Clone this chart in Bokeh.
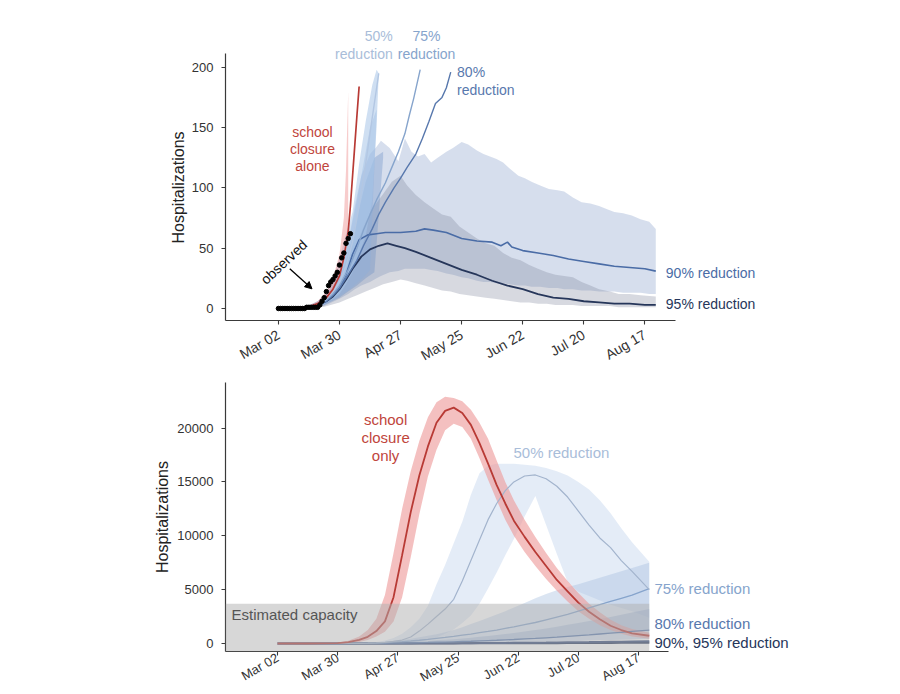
import math
from bokeh.plotting import figure
from bokeh.layouts import column
from bokeh.models import Label, Arrow, NormalHead, BoxAnnotation, FixedTicker, Range1d, Title
from bokeh.embed import file_html
from bokeh.resources import INLINE

FONT = "Liberation Sans"

# ---------------- shared x ticks (days since Mar 02) ----------------
tick_days = [0, 28, 56, 84, 112, 140, 168]
tick_labels = ["Mar 02", "Mar 30", "Apr 27", "May 25", "Jun 22", "Jul 20", "Aug 17"]

# ---------------- TOP PANEL DATA (hospitalizations, early phase) ----------------
obs_day = [0, 1, 2, 3, 4, 5, 6, 7, 8, 9, 10, 11, 12, 13, 14, 15, 16, 17, 18, 19, 20,
           21, 22, 23, 24, 25, 26, 27, 28, 29, 30, 31, 32, 33]
obs_val = [0, 0, 0, 0, 0, 0, 0, 0, 0, 0, 0, 0, 0, 1, 1, 1, 1, 1, 1, 3, 6,
           9, 14, 19, 22, 24, 27, 30, 36, 42, 46, 54, 58, 62]

school_day = [0, 7, 14, 18, 22, 25, 28, 30, 32, 33, 34, 35, 36, 37]
school_med = [0, 0.3, 1.5, 4, 9, 16, 27, 42, 64, 85, 110, 135, 160, 184]
school_rib_day = [0, 7, 14, 18, 22, 25, 28, 30, 31, 32]
school_rib_hi = [0, 0.5, 2.5, 6, 14, 25, 45, 75, 115, 180]
school_rib_lo = [0, 0.3, 1.5, 4, 9, 16, 27, 42, 52, 64]

r50_day = [0, 7, 14, 18, 22, 25, 28, 31, 34, 37, 40, 43, 46]
r50_med = [0, 0.3, 1.5, 3.5, 8, 14, 22, 35, 55, 85, 120, 158, 195]
r50_rib_day = [0, 7, 14, 18, 22, 25, 28, 31, 34, 37, 40, 43, 45, 46]
r50_rib_hi = [0, 0.5, 2.5, 6, 13, 24, 42, 62, 80, 120, 155, 185, 198, 195]
r50_rib_lo = [0, 0.2, 1, 2.5, 5, 8, 12, 20, 30, 45, 60, 90, 150, 195]

r75_day = [0, 7, 14, 18, 22, 25, 28, 32, 36, 39, 42, 45, 49, 52, 55, 58, 60, 62, 65]
r75_med = [0, 0.3, 1.5, 3, 7, 12, 19, 32, 50, 65, 78, 90, 104, 117, 130, 145, 160, 174, 198]
r75_rib_day = [0, 7, 14, 21, 28, 32, 36, 39, 42, 45]
r75_rib_hi = [0, 0.5, 2.5, 9, 30, 55, 90, 120, 150, 165]
r75_rib_lo = [0, 0.2, 1, 3, 10, 15, 21, 26, 32, 160]

r80_day = [0, 7, 14, 18, 22, 25, 28, 32, 36, 39, 43, 46, 49, 53, 56, 59, 63, 66, 69, 72, 75, 77, 79]
r80_med = [0, 0.3, 1.5, 3, 6, 11, 17, 28, 40, 52, 66, 78, 88, 100, 108, 117, 128, 141, 155, 170, 175, 183, 196]
r80_rib_day = [0, 7, 14, 21, 28, 32, 36, 40, 44, 48]
r80_rib_hi = [0, 0.5, 2, 8, 26, 45, 75, 105, 125, 130]
r80_rib_lo = [0, 0.2, 1, 3, 9, 14, 19, 25, 30, 125]

r90_day = [0, 7, 14, 18, 22, 25, 28, 31, 34, 37, 41, 45, 49, 56, 63, 67, 71, 77, 84, 91,
           98, 102, 105, 107, 112, 119, 126, 133, 140, 147, 154, 161, 168, 173]
r90_med = [0, 0.3, 1.5, 3, 6, 11, 17, 28, 45, 57, 61, 62, 63, 63, 64, 66, 65, 63, 58, 56,
           55, 52, 55, 51, 48, 46, 44, 41, 39, 37, 35, 34, 33, 31]
r90_rib_day = [0, 7, 14, 21, 28, 32, 35, 38, 42, 45, 47, 51, 55, 58, 61, 64, 67, 70, 73, 77,
               80, 84, 87, 91, 94, 97, 100, 103, 106, 110, 113, 116, 120, 124, 128, 131, 135,
               139, 143, 147, 151, 154, 158, 162, 166, 170, 173]
r90_rib_hi = [0, 0.5, 2.5, 8, 30, 55, 85, 110, 128, 134, 139, 133, 122, 141, 130, 126, 128, 121, 125, 130,
              133, 138, 136, 131, 128, 126, 124, 121, 116, 110, 108, 105, 102, 99, 98, 97, 92,
              88, 87, 85, 82, 80, 79, 77, 74, 72, 66]
r90_rib_lo = [0, 0.1, 0.5, 2, 8, 12, 16, 19, 22, 25, 27, 30, 31, 33, 33, 33, 33, 32, 31, 29,
              28, 26, 25, 23, 22, 22, 21, 21, 20, 19, 19, 18, 18, 17, 17, 16, 16,
              15, 15, 14, 14, 14, 13, 13, 13, 12, 12]

r95_day = [0, 7, 14, 18, 22, 25, 28, 31, 34, 38, 42, 46, 50, 54, 58, 63, 70, 77, 84, 91,
           98, 105, 112, 119, 126, 133, 140, 147, 154, 161, 168, 173]
r95_med = [0, 0.3, 1.5, 3, 6, 10, 16, 24, 33, 43, 49, 52, 54, 52, 50, 47, 42, 37, 32, 28,
           23, 19, 16, 12, 9, 8, 6, 5, 4, 4, 3, 3]
r95_rib_day = [0, 7, 14, 21, 28, 32, 36, 40, 44, 48, 52, 56, 59, 63, 67, 71, 75, 79, 83, 87,
               91, 95, 99, 103, 107, 111, 115, 119, 123, 127, 131, 135, 139, 143, 147, 152,
               156, 161, 166, 173]
r95_rib_hi = [0, 0.4, 2, 6, 18, 35, 55, 72, 85, 95, 105, 110, 102, 94, 88, 83, 78, 76, 68, 63,
              58, 54, 52, 46, 42, 40, 36, 33, 30, 28, 27, 26, 22, 19, 16, 14,
              12, 12, 11, 10]
r95_rib_lo = [0, 0.1, 0.3, 1.5, 5, 8, 11, 14, 17, 20, 22, 24, 23, 21, 19, 17, 15, 14, 12, 11,
              10, 9, 8, 7, 6, 5, 5, 4, 4, 3, 3, 3, 2, 2, 2, 2,
              1, 1, 1, 1]

# ---------------- BOTTOM PANEL DATA (full epidemic) ----------------
b_day = [0, 7, 14, 21, 28, 33, 38, 42, 46, 50, 54, 58, 62, 66, 70, 74, 78, 82, 86, 90, 94,
         98, 102, 106, 110, 115, 120, 125, 130, 135, 140, 145, 150, 155, 160, 165, 173]
b_school_med = [0, 0, 0, 5, 30, 120, 330, 620, 1150, 2050, 4300, 8200, 12200, 15600, 18300, 20500,
                21600, 21900, 21400, 20300, 18600, 16700, 14700, 13000, 11400, 9900, 8500, 7200,
                5900, 4850, 3800, 2950, 2250, 1650, 1250, 950, 720]
b_school_hi = [0, 0, 5, 20, 80, 250, 650, 1250, 2300, 4500, 8400, 12500, 16000, 18800, 21000, 22400,
               22900, 22800, 22500, 21700, 20500, 19000, 17000, 15000, 13300, 11500, 9900, 8400,
               7000, 5800, 4700, 3700, 2900, 2200, 1700, 1350, 1000]
b_school_lo = [0, 0, 0, 0, 10, 40, 150, 330, 650, 1100, 2050, 4300, 8000, 12000, 15500, 18000,
               19800, 20400, 20100, 19000, 17200, 15200, 13300, 11500, 10000, 8500, 7200, 6000,
               4900, 3900, 3000, 2300, 1700, 1250, 900, 650, 450]
b50_med = [0, 0, 0, 0, 0, 5, 15, 30, 60, 110, 200, 320, 600, 1150, 1800, 2500, 3200, 4100, 5800,
           7700, 9600, 11500, 13000, 14200, 15000, 15550, 15650, 15300, 14600, 13600, 12300,
           11000, 9800, 8900, 7700, 6700, 5000]
b50_hi = [0, 0, 0, 0, 5, 15, 40, 80, 150, 280, 500, 900, 1500, 2300, 3500, 5500, 7300, 9300, 11300,
          13800, 15800, 16500, 16700, 16700, 16700, 16600, 16500, 16300, 16000, 15600, 15000,
          14300, 13300, 12100, 10700, 9400, 7600]
b50_lo = [0, 0, 0, 0, 0, 0, 0, 0, 5, 10, 20, 40, 80, 150, 300, 550, 900, 1300, 1900, 2600, 3700,
          5100, 6600, 8200, 9700, 11800, 13700, 11000, 8300, 5700, 4800, 4400, 4000, 3600, 3300,
          3000, 2400]
b75_med = [0, 0, 0, 0, 0, 5, 15, 30, 50, 80, 120, 170, 230, 300, 380, 470, 560, 660, 770, 880,
           1000, 1120, 1250, 1400, 1550, 1750, 1950, 2200, 2450, 2700, 3000, 3300, 3600, 3900,
           4200, 4500, 5100]
b75_hi = [0, 0, 0, 0, 5, 15, 40, 70, 110, 170, 250, 340, 450, 580, 720, 870, 1050, 1250, 1500,
          1800, 2100, 2400, 2700, 3000, 3350, 3750, 4200, 4600, 4950, 5250, 5500, 5800, 6100,
          6400, 6700, 7000, 7500]
b75_lo = [0, 0, 0, 0, 0, 1, 3, 6, 10, 15, 22, 30, 40, 52, 65, 80, 95, 115, 135, 160, 190, 220,
          250, 290, 330, 380, 440, 500, 560, 630, 700, 780, 860, 950, 1050, 1150, 1300]
b80_med = [0, 0, 0, 0, 0, 2, 5, 10, 17, 25, 35, 48, 62, 78, 95, 115, 135, 160, 185, 210, 240,
           270, 300, 335, 370, 420, 470, 530, 590, 660, 730, 800, 880, 960, 1040, 1120, 1250]
b80_hi = [0, 0, 0, 0, 2, 6, 15, 28, 45, 65, 90, 120, 155, 195, 240, 290, 345, 405, 470, 540, 620,
          700, 790, 880, 980, 1110, 1250, 1400, 1560, 1730, 1900, 2080, 2270, 2470, 2670, 2880, 3200]
b80_lo = [0, 0, 0, 0, 0, 0, 1, 2, 4, 6, 9, 13, 17, 22, 28, 34, 41, 49, 58, 67, 77, 88, 99, 111,
          124, 140, 158, 177, 198, 220, 243, 268, 294, 322, 350, 380, 430]
b90_med = [0, 0, 0, 0, 0, 1, 2, 3, 4, 5, 7, 9, 11, 13, 16, 19, 22, 26, 30, 34, 39, 44, 49, 55,
           61, 69, 78, 87, 97, 108, 119, 131, 144, 158, 172, 187, 210]
b95_med = [0, 0, 0, 0, 0, 0, 1, 1, 2, 2, 3, 4, 5, 6, 7, 8, 9, 10, 12, 13, 15, 17, 19, 21, 23,
           25, 28, 31, 34, 37, 41, 45, 49, 53, 58, 63, 70]
capacity = 3700
capacity_end_day = 173

# ---------------- colours ----------------
RED = "#b83a35"
C50 = "#a9bdd9"
C75 = "#86a4cc"
C80 = "#5878ad"
C90 = "#4a6ca6"
C95 = "#26365a"


def base_fig(w, h, xr, yr, xb, yb, bl, br, bt, bb, yticks, xfs, xstand):
    p = figure(width=w, height=h, x_range=Range1d(*xr), y_range=Range1d(*yr),
               output_backend="svg", toolbar_location=None,
               min_border_left=bl, min_border_right=br, min_border_top=bt, min_border_bottom=bb)
    p.xgrid.visible = False
    p.ygrid.visible = False
    p.outline_line_color = None
    p.background_fill_color = "white"
    p.border_fill_color = "white"
    for ax in (p.xaxis[0], p.yaxis[0]):
        ax.axis_line_color = "#3a3a3a"
        ax.axis_line_width = 1.2
        ax.major_tick_line_color = "#3a3a3a"
        ax.major_tick_line_width = 1.1
        ax.major_tick_out = 4
        ax.major_tick_in = 0
        ax.minor_tick_out = 0
        ax.minor_tick_in = 0
        ax.major_label_text_font = FONT
        ax.major_label_text_font_size = "13px"
        ax.major_label_text_color = "#333333"
    p.xaxis.bounds = xb
    p.yaxis.bounds = yb
    p.xaxis.ticker = FixedTicker(ticks=tick_days)
    p.xaxis.major_label_overrides = {d: l for d, l in zip(tick_days, tick_labels)}
    p.xaxis.major_label_orientation = math.radians(30)
    p.xaxis.major_label_standoff = xstand
    p.xaxis.major_label_text_font_size = xfs
    p.yaxis.ticker = FixedTicker(ticks=yticks)
    p.yaxis.major_label_standoff = 8
    return p


def lab(p, x, y, text, color, size="14px", align="left", angle=0.0):
    p.add_layout(Label(x=x, y=y, text=text, text_color=color, text_font=FONT,
                       text_font_size=size, text_align=align, text_baseline="middle",
                       angle=angle))


# ================= TOP =================
# frame: x 224..895 px, y 15..320 px ; axis lines bounded to the panel 224..675 / 53..320
p1 = base_fig(900, 374, (-24.26, 282.9), (-9.95, 242.9), (-24.26, 182.2), (-9.95, 211.4),
              224, 5, 15, 54, [0, 50, 100, 150, 200], "14px", 9)
p1.add_layout(Title(text="Hospitalizations", align="left", offset=77, standoff=4,
                    text_font=FONT, text_font_size="16px", text_font_style="normal",
                    text_color="#222222"), "left")

p1.varea(x=r90_rib_day, y1=r90_rib_lo, y2=r90_rib_hi, fill_color="#b4c3df", fill_alpha=0.55)
p1.varea(x=r95_rib_day, y1=r95_rib_lo, y2=r95_rib_hi, fill_color="#7c8299", fill_alpha=0.3)
p1.varea(x=r80_rib_day, y1=r80_rib_lo, y2=r80_rib_hi, fill_color="#6b8fc6", fill_alpha=0.35)
p1.varea(x=r75_rib_day, y1=r75_rib_lo, y2=r75_rib_hi, fill_color="#8db0dc", fill_alpha=0.4)
p1.varea(x=r50_rib_day, y1=r50_rib_lo, y2=r50_rib_hi, fill_color="#a8c4e8", fill_alpha=0.55)
p1.varea(x=school_rib_day, y1=school_rib_lo, y2=school_rib_hi, fill_color="#ef9a9a", fill_alpha=0.5)

p1.line(r95_day, r95_med, line_color=C95, line_width=1.8)
p1.line(r90_day, r90_med, line_color=C90, line_width=1.6)
p1.line(r80_day, r80_med, line_color=C80, line_width=1.4)
p1.line(r75_day, r75_med, line_color=C75, line_width=1.4)
p1.line(r50_day, r50_med, line_color="#b3c7e3", line_width=1.4)
p1.line(school_day, school_med, line_color=RED, line_width=1.7)
p1.scatter(obs_day, obs_val, size=4.5, color="black")

p1.add_layout(Arrow(end=NormalHead(size=7, fill_color="black", line_color="black"),
                    x_start=5.2, y_start=32.9, x_end=15.4, y_end=16.3,
                    line_color="black", line_width=1.3))
lab(p1, 2.5, 38.6, "observed", "#111111", "14px", "center", math.radians(43))

lab(p1, 15.6, 146.4, "school", "#c0453c", "14px", "center")
lab(p1, 15.6, 132.3, "closure", "#c0453c", "14px", "center")
lab(p1, 15.6, 118.4, "alone", "#c0453c", "14px", "center")
lab(p1, 52.4, 226.2, "50%", C50, "14px", "right")
lab(p1, 52.4, 211.1, "reduction", C50, "14px", "right")
lab(p1, 67.9, 226.2, "75%", C75, "14px", "center")
lab(p1, 67.9, 211.1, "reduction", C75, "14px", "center")
lab(p1, 81.9, 195.9, "80%", C80, "14px", "left")
lab(p1, 81.9, 181.3, "reduction", C80, "14px", "left")
lab(p1, 177.6, 29.8, "90% reduction", C90, "14px", "left")
lab(p1, 177.6, 4.1, "95% reduction", C95, "14px", "left")

# ================= BOTTOM =================
# frame: x 225..895 px, y 382..651 px ; x axis line bounded to 225..668
p2 = base_fig(900, 320, (-24.2, 287.6), (-743, 24234), (-24.2, 181.9), (-743, 24234),
              225, 5, 8, 43, [0, 5000, 10000, 15000, 20000], "13px", 1)
p2.yaxis.axis_label = "Hospitalizations"
p2.yaxis.axis_label_text_font = FONT
p2.yaxis.axis_label_text_font_size = "16px"
p2.yaxis.axis_label_text_font_style = "normal"
p2.yaxis.axis_label_text_color = "#222222"
p2.yaxis.axis_label_standoff = 3

p2.varea(x=b_day, y1=b50_lo, y2=b50_hi, fill_color="#bcd0ea", fill_alpha=0.4)
p2.varea(x=b_day, y1=b75_lo, y2=b75_hi, fill_color="#a6bedf", fill_alpha=0.4)
p2.varea(x=b_day, y1=b80_lo, y2=b80_hi, fill_color="#7f9cc8", fill_alpha=0.35)
p2.varea(x=b_day, y1=b_school_lo, y2=b_school_hi, fill_color="#ee9a9a", fill_alpha=0.62)

p2.line(b_day, b95_med, line_color=C95, line_width=2)
p2.line(b_day, b90_med, line_color="#344a7a", line_width=2)
p2.line(b_day, b80_med, line_color=C80, line_width=1.3)
p2.line(b_day, b75_med, line_color=C75, line_width=1.3)
p2.line(b_day, b50_med, line_color="#a3b4cd", line_width=1.2)
p2.line(b_day, b_school_med, line_color=RED, line_width=1.8)

p2.add_layout(BoxAnnotation(top=capacity, right=capacity_end_day, fill_color="#b0b0b0",
                            fill_alpha=0.5, line_color=None))
lab(p2, -21.4, 2685, "Estimated capacity", "#555555", "15px", "left")

lab(p2, 50.3, 20830, "school", "#c0453c", "15px", "center")
lab(p2, 50.3, 19170, "closure", "#c0453c", "15px", "center")
lab(p2, 50.3, 17500, "only", "#c0453c", "15px", "center")
lab(p2, 109.8, 17690, "50% reduction", C50, "15px", "left")
lab(p2, 175.4, 5090, "75% reduction", C75, "15px", "left")
lab(p2, 175.4, 1850, "80% reduction", C80, "15px", "left")
lab(p2, 175.4, 90, "90%, 95% reduction", C95, "15px", "left")

layout = column(p1, p2, spacing=0)
open("out.html", "w").write(file_html(layout, INLINE))
